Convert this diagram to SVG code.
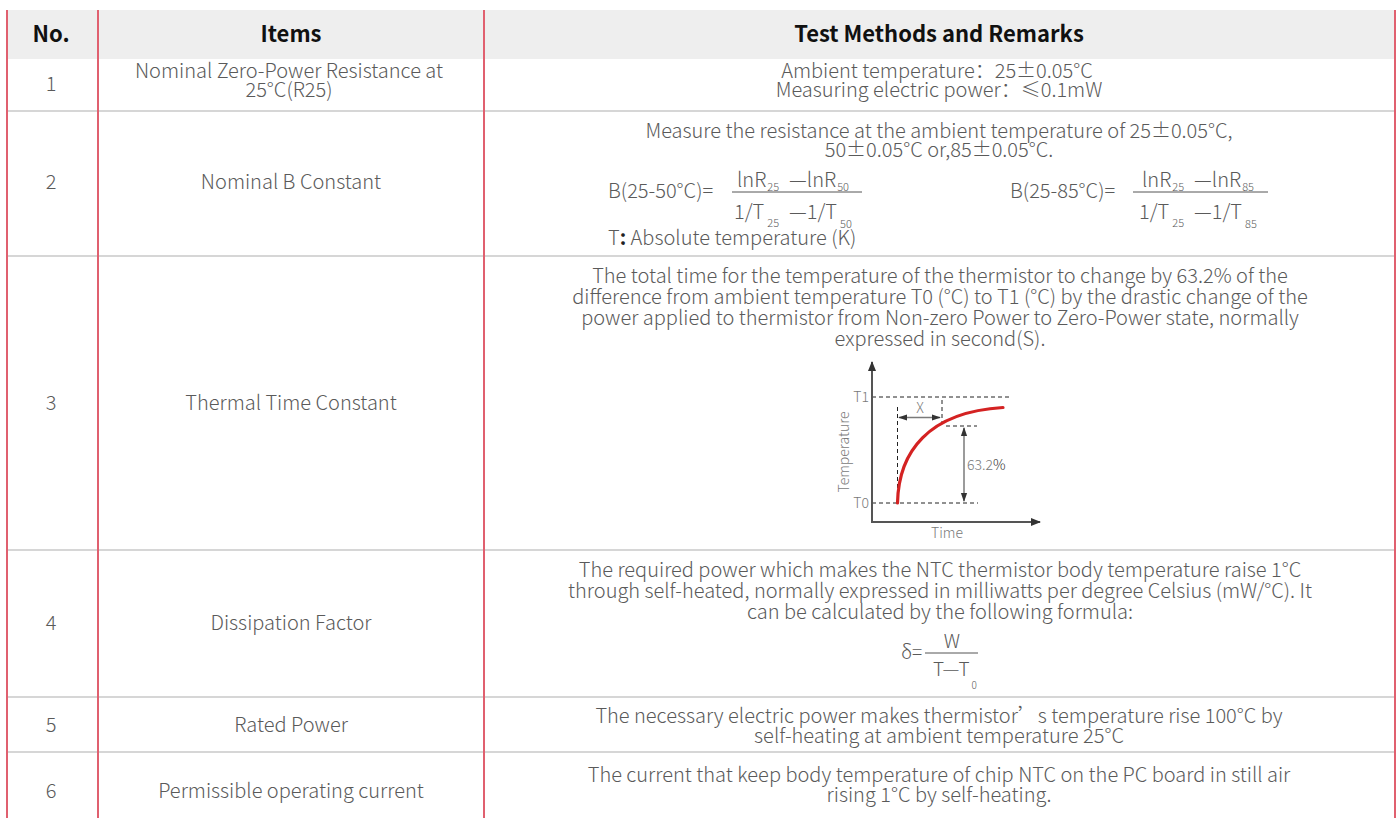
<svg xmlns="http://www.w3.org/2000/svg" width="1398" height="818" viewBox="0 0 1398 818">
<style>
text{font-family:"Noto Sans CJK SC","Noto Sans",sans-serif;}
.h{font-size:22px;font-weight:700;fill:#111;text-anchor:middle;}
.t{font-size:20px;font-weight:300;fill:#5a5a5a;}
.c{text-anchor:middle;}
.sb{font-size:11px;}
.f{font-size:19px;font-weight:300;fill:#5a5a5a;}
.gl{font-size:14px;font-weight:300;fill:#7a7a7a;}
.hline{stroke:#d6d6d6;stroke-width:2;}
.vline{stroke:#e0606f;stroke-width:2;}
.frac{stroke:#555;stroke-width:1;}
.dash{stroke:#222;stroke-width:1;stroke-dasharray:4 3;fill:none;}
.axis{stroke:#555;stroke-width:2;fill:none;}
.dim{stroke:#7a7a7a;stroke-width:1.5;fill:none;}
</style>
<defs>
<marker id="axArrow" viewBox="0 0 10 10" refX="9" refY="5" markerWidth="5" markerHeight="5" orient="auto" markerUnits="strokeWidth">
<path d="M0,1 L10,5 L0,9 z" fill="#333"/>
</marker>
<marker id="dimArrow" viewBox="0 0 10 10" refX="9" refY="5" markerWidth="6" markerHeight="6" orient="auto-start-reverse" markerUnits="strokeWidth">
<path d="M0,1.5 L10,5 L0,8.5 z" fill="#333"/>
</marker>
</defs>

<g id="table-grid">
<rect x="7" y="10" width="1388" height="49" fill="#eeeeee"/>
<line class="hline" x1="7" y1="111" x2="1395" y2="111"/>
<line class="hline" x1="7" y1="256" x2="1395" y2="256"/>
<line class="hline" x1="7" y1="550" x2="1395" y2="550"/>
<line class="hline" x1="7" y1="697" x2="1395" y2="697"/>
<line class="hline" x1="7" y1="752" x2="1395" y2="752"/>
<line class="vline" x1="7" y1="10" x2="7" y2="818"/>
<line class="vline" x1="98" y1="10" x2="98" y2="818"/>
<line class="vline" x1="484" y1="10" x2="484" y2="818"/>
<line class="vline" x1="1395" y1="10" x2="1395" y2="818"/>
</g>

<g id="header">
<text class="h" x="51" y="42">No.</text>
<text class="h" x="291" y="42">Items</text>
<text class="h" x="939" y="42">Test Methods and Remarks</text>
</g>

<g id="row1">
<text class="t c" x="51" y="91">1</text>
<text class="t c" x="289" y="78">Nominal Zero-Power Resistance at</text>
<text class="t c" x="289" y="97">25°C(R25)</text>
<text class="t c" x="937" y="78">Ambient temperature：25±0.05°C</text>
<text class="t c" x="939" y="97">Measuring electric power：≤0.1mW</text>
</g>

<g id="row2">
<text class="t c" x="51" y="189">2</text>
<text class="t c" x="291" y="189">Nominal B Constant</text>
<text class="t c" x="939" y="138">Measure the resistance at the ambient temperature of 25±0.05°C,</text>
<text class="t c" x="939" y="157">50±0.05°C or,85±0.05°C.</text>
<text class="t" x="608" y="198">B(25-50°C)=</text>
<line class="frac" x1="732" y1="192" x2="862" y2="192"/>
<text class="t" x="737" y="187">lnR<tspan class="sb" dx="1" dy="4">25</tspan><tspan dx="10" dy="-4">—lnR</tspan><tspan class="sb" dx="1" dy="4">50</tspan></text>
<text class="t" x="734" y="219">1/T<tspan class="sb" dx="3" dy="8">25</tspan><tspan dx="10" dy="-8">—1/T</tspan><tspan class="sb" dx="3" dy="9">50</tspan></text>
<text class="t" x="1010" y="198">B(25-85°C)=</text>
<line class="frac" x1="1133" y1="192" x2="1268" y2="192"/>
<text class="t" x="1142" y="187">lnR<tspan class="sb" dx="1" dy="4">25</tspan><tspan dx="10" dy="-4">—lnR</tspan><tspan class="sb" dx="1" dy="4">85</tspan></text>
<text class="t" x="1139" y="219">1/T<tspan class="sb" dx="3" dy="8">25</tspan><tspan dx="10" dy="-8">—1/T</tspan><tspan class="sb" dx="3" dy="9">85</tspan></text>
<text class="t" x="608" y="245">T<tspan font-weight="700" fill="#222">:</tspan> Absolute temperature (K)</text>
</g>

<g id="row3">
<text class="t c" x="51" y="410">3</text>
<text class="t c" x="291" y="410">Thermal Time Constant</text>
<text class="t c" x="940" y="283">The total time for the temperature of the thermistor to change by 63.2% of the</text>
<text class="t c" x="940" y="304">difference from ambient temperature T0 (°C) to T1 (°C) by the drastic change of the</text>
<text class="t c" x="940" y="325">power applied to thermistor from Non-zero Power to Zero-Power state, normally</text>
<text class="t c" x="940" y="346">expressed in second(S).</text>
</g>

<g id="chart">
<line class="dash" x1="872" y1="397" x2="1012" y2="397"/>
<line class="dash" x1="872" y1="503" x2="978" y2="503"/>
<line class="dash" x1="897.5" y1="407" x2="897.5" y2="503"/>
<line class="dash" x1="942" y1="400" x2="942" y2="422"/>
<line class="dash" x1="946" y1="426" x2="977" y2="426"/>
<line class="axis" x1="872" y1="522" x2="872" y2="362" marker-end="url(#axArrow)"/>
<line class="axis" x1="871" y1="522" x2="1040" y2="522" marker-end="url(#axArrow)"/>
<line class="dim" x1="899" y1="417.5" x2="940" y2="417.5" marker-start="url(#dimArrow)" marker-end="url(#dimArrow)"/>
<line class="dim" x1="964" y1="428" x2="964" y2="501" marker-start="url(#dimArrow)" marker-end="url(#dimArrow)"/>
<path d="M897.5,503 C898.5,452 928,412 1003,407.5" fill="none" stroke="#d42222" stroke-width="3.2" stroke-linecap="round"/>
<text class="gl c" x="920" y="413">X</text>
<text class="gl" x="967" y="470">63.2<tspan fill="#333">%</tspan></text>
<text class="gl" x="869" y="402" text-anchor="end">T1</text>
<text class="gl" x="869" y="508" text-anchor="end">T0</text>
<text class="gl c" transform="translate(849,452) rotate(-90)">Temperature</text>
<text class="gl c" x="947" y="538">Time</text>
</g>

<g id="row4">
<text class="t c" x="51" y="630">4</text>
<text class="t c" x="291" y="630">Dissipation Factor</text>
<text class="t c" x="940" y="577">The required power which makes the NTC thermistor body temperature raise 1°C</text>
<text class="t c" x="940" y="598">through self-heated, normally expressed in milliwatts per degree Celsius (mW/°C). It</text>
<text class="t c" x="940" y="619">can be calculated by the following formula:</text>
<text class="f" x="901" y="659">δ=</text>
<line class="frac" x1="925" y1="653" x2="978" y2="653"/>
<text class="f c" x="952" y="648">W</text>
<text class="f" x="933" y="676">T—T<tspan dx="2" dy="13" style="font-size:10px">0</tspan></text>
</g>

<g id="row5">
<text class="t c" x="51" y="732">5</text>
<text class="t c" x="291" y="732">Rated Power</text>
<text class="t c" x="939" y="723">The necessary electric power makes thermistor’s temperature rise 100°C by</text>
<text class="t c" x="939" y="743">self-heating at ambient temperature 25°C</text>
</g>

<g id="row6">
<text class="t c" x="51" y="798">6</text>
<text class="t c" x="291" y="798">Permissible operating current</text>
<text class="t c" x="939" y="782">The current that keep body temperature of chip NTC on the PC board in still air</text>
<text class="t c" x="939" y="802">rising 1°C by self-heating.</text>
</g>
</svg>
